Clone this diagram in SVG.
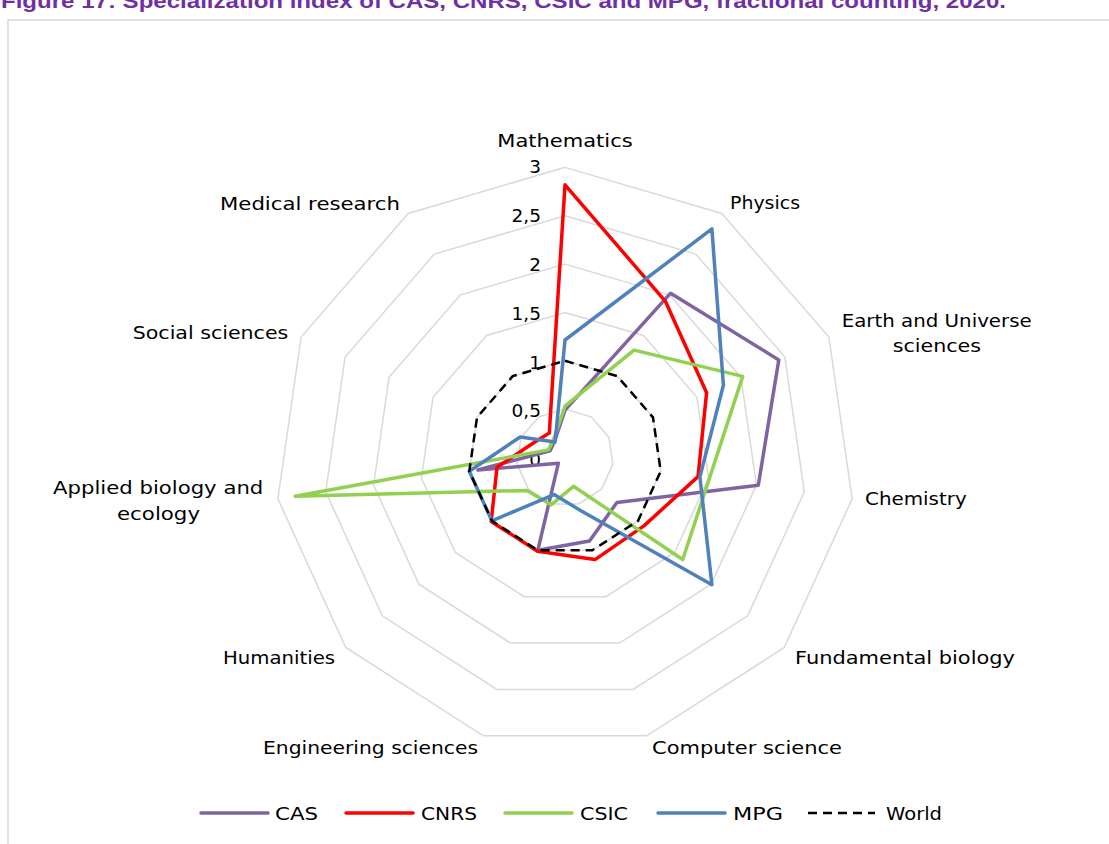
<svg xmlns="http://www.w3.org/2000/svg" width="1109" height="844" viewBox="0 0 1109 844">
<style>
.lbl{font-family:"DejaVu Sans","Liberation Sans",sans-serif;font-size:18px;fill:#000}
.tick{font-family:"DejaVu Sans","Liberation Sans",sans-serif;font-size:18.5px;fill:#000;text-anchor:end}
.ring{fill:none;stroke:#d9d9d9;stroke-width:1.5}
.ser{fill:none;stroke-width:3.5;stroke-linejoin:round;stroke-linecap:round}
.cas{stroke:#8064a2}.cnrs{stroke:#ff0000}.csic{stroke:#92d050}.mpg{stroke:#4f81bd}
.world{fill:none;stroke:#000;stroke-width:2.5;stroke-dasharray:9 6}
</style>
<rect width="1109" height="844" fill="#fff"/>
<g id="title">
<text x="1" y="7.5" font-family="Liberation Sans, Arial, sans-serif" font-size="21" font-weight="bold" fill="#7030a0" textLength="1005" lengthAdjust="spacingAndGlyphs">Figure 17: Specialization index of CAS, CNRS, CSIC and MPG, fractional counting, 2020.</text>
</g>
<g id="frame">
<path d="M8,844 V20 H1109" fill="none" stroke="#d9d9d9" stroke-width="1.5"/>
</g>
<g id="grid">
<polygon class="ring" points="565,409.15 591.14,416.82 608.98,437.42 612.86,464.38 601.54,489.16 578.62,503.89 551.38,503.89 528.46,489.16 517.14,464.38 521.02,437.42 538.86,416.82"/>
<polygon class="ring" points="565,360.8 617.28,376.15 652.96,417.33 660.71,471.26 638.08,520.83 592.24,550.28 537.76,550.28 491.92,520.83 469.29,471.26 477.04,417.33 512.72,376.15"/>
<polygon class="ring" points="565,312.45 643.41,335.47 696.94,397.25 708.57,478.14 674.61,552.49 605.86,596.68 524.14,596.68 455.39,552.49 421.43,478.14 433.06,397.25 486.59,335.47"/>
<polygon class="ring" points="565,264.1 669.55,294.79 740.92,377.16 756.43,485.02 711.15,584.16 619.48,643.07 510.52,643.07 418.85,584.16 373.57,485.02 389.08,377.16 460.45,294.79"/>
<polygon class="ring" points="565,215.75 695.69,254.12 784.9,357.08 804.28,491.9 747.69,615.82 633.1,689.46 496.9,689.46 382.31,615.82 325.72,491.9 345.1,357.08 434.31,254.12"/>
<polygon class="ring" points="565,167.4 721.83,213.44 828.88,336.99 852.14,498.78 784.23,647.49 646.72,735.85 483.28,735.85 345.77,647.49 277.86,498.78 301.12,336.99 408.17,213.44"/>
</g>
<g id="tick-labels">
<text class="tick" x="541" y="173.3">3</text>
<text class="tick" x="541" y="222.1">2,5</text>
<text class="tick" x="541" y="270.9">2</text>
<text class="tick" x="541" y="319.7">1,5</text>
<text class="tick" x="541" y="368.5">1</text>
<text class="tick" x="541" y="417.3">0,5</text>
<text class="tick" x="541" y="466.1">0</text>
</g>
<g id="category-labels">
<text class="lbl" x="497.3" y="147.3" textLength="135.4" lengthAdjust="spacingAndGlyphs">Mathematics</text>
<text class="lbl" x="730" y="209.3" textLength="70" lengthAdjust="spacingAndGlyphs">Physics</text>
<text class="lbl" x="841.7" y="326.7" textLength="190" lengthAdjust="spacingAndGlyphs">Earth and Universe</text>
<text class="lbl" x="892.7" y="351.7" textLength="88.3" lengthAdjust="spacingAndGlyphs">sciences</text>
<text class="lbl" x="865" y="505" textLength="101.7" lengthAdjust="spacingAndGlyphs">Chemistry</text>
<text class="lbl" x="795" y="664" textLength="220" lengthAdjust="spacingAndGlyphs">Fundamental biology</text>
<text class="lbl" x="652" y="754" textLength="190" lengthAdjust="spacingAndGlyphs">Computer science</text>
<text class="lbl" x="263" y="754" textLength="215" lengthAdjust="spacingAndGlyphs">Engineering sciences</text>
<text class="lbl" x="223" y="664" textLength="112" lengthAdjust="spacingAndGlyphs">Humanities</text>
<text class="lbl" x="53" y="494" textLength="210.3" lengthAdjust="spacingAndGlyphs">Applied biology and</text>
<text class="lbl" x="117" y="520" textLength="83" lengthAdjust="spacingAndGlyphs">ecology</text>
<text class="lbl" x="132.7" y="339.3" textLength="155.6" lengthAdjust="spacingAndGlyphs">Social sciences</text>
<text class="lbl" x="220" y="210" textLength="180" lengthAdjust="spacingAndGlyphs">Medical research</text>
</g>
<g id="series">
<polygon id="CAS" class="ser cas" points="565,410.1 670.6,293.2 778.8,359.9 758.3,485.3 616.9,502.5 589.5,541 537.8,550.3 558.4,463.2 477.9,470 550.1,450.7 554.6,441.3"/>
<polygon id="CNRS" class="ser cnrs" points="565,184.8 665.4,301.3 706.6,392.8 698,476.6 643.9,525.9 595,559.6 537.5,551.2 491.2,521.5 497,467.3 533.3,443 549.3,433.1"/>
<polygon id="CSIC" class="ser csic" points="565,406.2 634,350.1 742.7,376.4 709.5,478.3 682.7,559.5 573.5,486.3 551.1,504.8 527,490.4 295.1,496.3 548.3,449.9 553.5,439.6"/>
<polygon id="MPG" class="ser mpg" points="565,340 711.9,228.9 723.4,385.2 699.9,476.9 711.9,584.8 580.5,510.4 554.1,494.6 491.9,520.8 469.3,471.3 520.2,437 555.1,442"/>
<polygon id="World" class="world" points="565,360.8 617.28,376.15 652.96,417.33 660.71,471.26 638.08,520.83 592.24,550.28 537.76,550.28 491.92,520.83 469.29,471.26 477.04,417.33 512.72,376.15"/>
</g>
<g id="legend">
<line class="ser cas" x1="201" y1="813" x2="268" y2="813"/>
<text class="lbl" x="275" y="820" textLength="43" lengthAdjust="spacingAndGlyphs">CAS</text>
<line class="ser cnrs" x1="346" y1="813" x2="413" y2="813"/>
<text class="lbl" x="421" y="820" textLength="56" lengthAdjust="spacingAndGlyphs">CNRS</text>
<line class="ser csic" x1="505" y1="813" x2="572" y2="813"/>
<text class="lbl" x="580" y="820" textLength="48" lengthAdjust="spacingAndGlyphs">CSIC</text>
<line class="ser mpg" x1="658" y1="813" x2="725" y2="813"/>
<text class="lbl" x="733" y="820" textLength="50" lengthAdjust="spacingAndGlyphs">MPG</text>
<line class="world" x1="808" y1="813" x2="875" y2="813" stroke-dasharray="12 6.3"/>
<text class="lbl" x="886" y="820" textLength="56" lengthAdjust="spacingAndGlyphs">World</text>
</g>
</svg>
